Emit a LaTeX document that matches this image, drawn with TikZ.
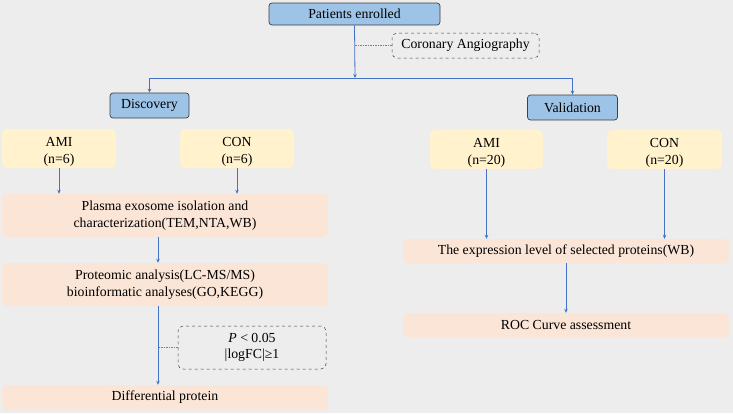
\documentclass[tikz,border=0pt]{standalone}
\usepackage{fontspec}
\setmainfont{Liberation Serif}
\usetikzlibrary{arrows.meta}
\definecolor{bg}{HTML}{EDEDED}
\definecolor{bluefill}{HTML}{9DC3E6}
\definecolor{yel}{HTML}{FFF2CC}
\definecolor{peach}{HTML}{FBE5D6}
\definecolor{arrblue}{HTML}{4472C4}
\definecolor{edge}{HTML}{404040}
\newcommand\ytxt[2]{\begin{tabular}{@{}c@{}}\rule{0pt}{17.5pt}#1\\#2\end{tabular}}
\begin{document}
\begin{tikzpicture}[x=1pt,y=-1pt,
  every node/.style={font=\rmfamily\fontsize{13.8}{16.5}\selectfont, inner sep=0pt, align=center},
  bluebox/.style={draw=edge, line width=0.7pt, fill=bluefill, rounded corners=3pt},
  yelbox/.style={fill=yel, rounded corners=5pt},
  peachbox/.style={fill=peach, rounded corners=5pt},
  notebox/.style={draw=edge, dashed, line width=0.5pt, rounded corners=5pt},
  arr/.style={draw=arrblue, line width=0.8pt, -{Stealth[length=4pt,width=3.5pt]}},
  leader/.style={draw=gray, dashed, dash pattern=on 1.5pt off 1pt, line width=0.5pt}]
\fill[bg] (0,0) rectangle (733,413);
\useasboundingbox (0,0) rectangle (733,413);
% top
\node[bluebox, minimum width=171, minimum height=22] (pe) at (354.5,14) {Patients enrolled};
\node[notebox, minimum width=147, minimum height=25] (ca) at (465.5,45.5) {Coronary Angiography};
\coordinate (split) at (355,78);
\draw[arr] (pe.south) -- (split);
\draw[leader] (ca.west) -- (ca.west -| pe.south);
\node[bluebox, minimum width=79, minimum height=25] (disc) at (149.5,105.5) {Discovery};
\node[bluebox, minimum width=90, minimum height=25] (val) at (572.5,107.5) {Validation};
\draw[arr] (split) -| (disc.north);
\draw[arr] (split) -| (val.north);
% discovery branch
\node[yelbox, minimum width=114, minimum height=39] (ami1) at (59,148.5) {\ytxt{AMI}{(n=6)}};
\node[yelbox, minimum width=114, minimum height=39] (con1) at (237,148.5) {\ytxt{CON}{(n=6)}};
\node[peachbox, minimum width=326, minimum height=43] (plasma) at (165,215.5) {Plasma exosome isolation and\\characterization(TEM,NTA,WB)};
\node[peachbox, minimum width=326, minimum height=43] (prot) at (165,284.5) {Proteomic analysis(LC-MS/MS)\\bioinformatic analyses(GO,KEGG)};
\node[peachbox, minimum width=326, minimum height=25] (diff) at (165,397.5) {Differential protein};
\node[notebox, minimum width=148, minimum height=43] (pv) at (252,347.5) {\textit{P} < 0.05\\|logFC|≥1};
\coordinate (protout) at ([xshift=-7pt]prot.south);
\draw[arr] (ami1.south) -- (ami1.south |- plasma.north);
\draw[arr] (con1.south) -- (con1.south |- plasma.north);
\draw[arr] ([xshift=-7pt]plasma.south) -- ([xshift=-7pt]prot.north);
\draw[arr] (protout) -- ([xshift=-7pt]diff.north);
\draw[leader] (pv.west) -- (pv.west -| protout);
% validation branch
\node[yelbox, minimum width=113, minimum height=39] (ami2) at (486.5,149.5) {\ytxt{AMI}{(n=20)}};
\node[yelbox, minimum width=115, minimum height=39] (con2) at (664.5,149.5) {\ytxt{CON}{(n=20)}};
\node[peachbox, minimum width=326, minimum height=24] (expr) at (566,251) {The expression level of selected proteins(WB)};
\node[peachbox, minimum width=326, minimum height=24] (roc) at (566,325) {ROC Curve assessment};
\draw[arr] (ami2.south) -- (ami2.south |- expr.north);
\draw[arr] (con2.south) -- (con2.south |- expr.north);
\draw[arr] (expr.south) -- (roc.north);
\end{tikzpicture}
\end{document}
